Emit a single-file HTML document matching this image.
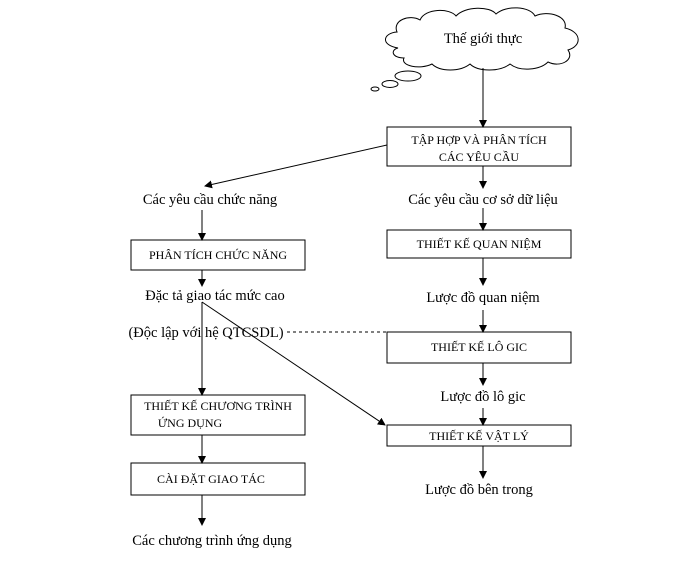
<!DOCTYPE html>
<html><head><meta charset="utf-8"><style>
body{margin:0;background:#fff}
text{font-family:"Liberation Serif",serif;fill:#000}
.b{font-size:12px}.l{font-size:14.5px}
</style></head><body>
<svg width="674" height="567" viewBox="0 0 674 567" xmlns="http://www.w3.org/2000/svg">
<defs><marker id="a" markerWidth="8" markerHeight="8" refX="7" refY="4" orient="auto" markerUnits="userSpaceOnUse"><path d="M0,0 L8,4 L0,8 z" fill="#000"/></marker></defs>
<g fill="#fff" stroke="#000" stroke-width="1">
<path d="M398,48 C380,45 383,33 397,32 C392,20 410,14 420,20 C425,8 450,8 456,16 C465,6 490,6 496,14 C506,5 530,6 535,16 C548,10 568,16 565,28 C582,32 582,46 568,50 C575,60 560,68 548,62 C540,70 520,72 510,64 C500,72 478,72 470,64 C460,72 440,72 432,64 C420,70 400,66 404,58 C392,58 390,50 398,48 Z"/>
<ellipse cx="408" cy="76" rx="13" ry="5"/>
<ellipse cx="390" cy="84" rx="8" ry="3.5"/>
<ellipse cx="375" cy="89" rx="4" ry="2"/>
</g>
<text class="l" x="483" y="43" text-anchor="middle" font-size="16">Thế giới thực</text>
<g stroke="#000" stroke-width="1" fill="none">
<rect x="387" y="127" width="184" height="39"/>
<rect x="387" y="230" width="184" height="28"/>
<rect x="387" y="332" width="184" height="31"/>
<rect x="387" y="425" width="184" height="21"/>
<rect x="131" y="240" width="174" height="30"/>
<rect x="131" y="395" width="174" height="40"/>
<rect x="131" y="463" width="174" height="32"/>
<line x1="483" y1="68" x2="483" y2="127" marker-end="url(#a)"/>
<line x1="387" y1="145" x2="205" y2="186" marker-end="url(#a)"/>
<line x1="483" y1="166" x2="483" y2="188" marker-end="url(#a)"/>
<line x1="483" y1="208" x2="483" y2="230" marker-end="url(#a)"/>
<line x1="202" y1="210" x2="202" y2="240" marker-end="url(#a)"/>
<line x1="202" y1="270" x2="202" y2="286" marker-end="url(#a)"/>
<line x1="483" y1="258" x2="483" y2="285" marker-end="url(#a)"/>
<line x1="483" y1="310" x2="483" y2="332" marker-end="url(#a)"/>
<line x1="287" y1="332" x2="387" y2="332" stroke-dasharray="3,3"/>
<line x1="202" y1="302" x2="202" y2="395" marker-end="url(#a)"/>
<line x1="202" y1="302" x2="385" y2="425" marker-end="url(#a)"/>
<line x1="483" y1="363" x2="483" y2="385" marker-end="url(#a)"/>
<line x1="483" y1="408" x2="483" y2="425" marker-end="url(#a)"/>
<line x1="483" y1="446" x2="483" y2="478" marker-end="url(#a)"/>
<line x1="202" y1="435" x2="202" y2="463" marker-end="url(#a)"/>
<line x1="202" y1="495" x2="202" y2="525" marker-end="url(#a)"/>
</g>
<g class="b" text-anchor="middle">
<text x="479" y="144">TẬP HỢP VÀ PHÂN TÍCH</text>
<text x="479" y="161">CÁC YÊU CẦU</text>
<text x="479" y="248">THIẾT KẾ QUAN NIỆM</text>
<text x="479" y="351">THIẾT KẾ LÔ GIC</text>
<text x="479" y="440">THIẾT KẾ VẬT LÝ</text>
<text x="218" y="259">PHÂN TÍCH CHỨC NĂNG</text>
<text x="218" y="410">THIẾT KẾ CHƯƠNG TRÌNH</text>
<text x="190" y="427">ỨNG DỤNG</text>
<text x="211" y="483">CÀI ĐẶT GIAO TÁC</text>
</g>
<g class="l" text-anchor="middle">
<text x="210" y="204">Các yêu cầu chức năng</text>
<text x="483" y="204">Các yêu cầu cơ sở dữ liệu</text>
<text x="215" y="300">Đặc tả giao tác mức cao</text>
<text x="483" y="302">Lược đồ quan niệm</text>
<text x="206" y="337">(Độc lập với hệ QTCSDL)</text>
<text x="483" y="401">Lược đồ lô gic</text>
<text x="479" y="494">Lược đồ bên trong</text>
<text x="212" y="545">Các chương trình ứng dụng</text>
</g>
</svg>
</body></html>
